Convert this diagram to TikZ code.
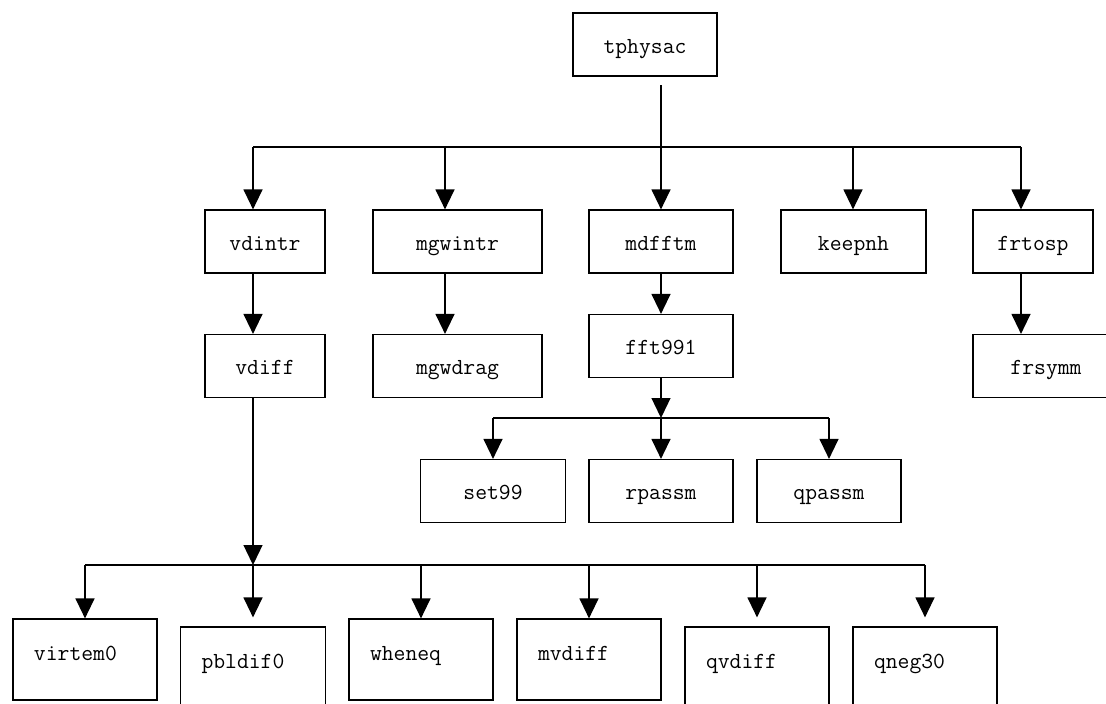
\documentclass[tikz,border=0pt]{standalone}
\usetikzlibrary{arrows.meta}
\begin{document}
\begin{tikzpicture}[x=1pt,y=-1pt,
  box/.style={draw, line width=1.2pt, inner xsep=0pt, inner ysep=0pt,
    text height=40pt, text depth=23pt, minimum height=63pt,
    font=\fontsize{23}{26}\selectfont\ttfamily},
  lbox/.style={box, inner xsep=21pt, text height=41pt, text depth=40pt,
    minimum height=81pt},
  line/.style={line width=1.3pt},
  arr/.style={line, -{Triangle[width=19pt,length=20pt]}}]
\useasboundingbox (0,0) rectangle (1106,704);
\clip (0,0) rectangle (1106,704);

% level 0
\node[box, minimum width=144pt] (tphysac) at (645,44.5) {tphysac};
% level 1
\node[box, minimum width=120pt] (vdintr)  at (265,241.5)  {vdintr};
\node[box, minimum width=169pt] (mgwintr) at (457.5,241.5) {mgwintr};
\node[box, minimum width=144pt] (mdfftm)  at (661,241.5)  {mdfftm};
\node[box, minimum width=145pt] (keepnh)  at (853.5,241.5) {keepnh};
\node[box, minimum width=120pt] (frtosp)  at (1033,241.5) {frtosp};
% level 2
\node[box, minimum width=120pt] (vdiff)   at (265,366)   {vdiff};
\node[box, minimum width=169pt] (mgwdrag) at (457.5,366) {mgwdrag};
\node[box, minimum width=144pt] (fft991)  at (661,346)   {fft991};
\node[box, minimum width=146pt] (frsymm)  at (1046,366)  {frsymm};
% level 3
\node[box, minimum width=145pt] (set99)   at (493,491) {set99};
\node[box, minimum width=144pt] (rpassm)  at (661,491) {rpassm};
\node[box, minimum width=144pt] (qpassm)  at (829,491) {qpassm};
% bottom row
\node[lbox] (virtem0) at (85,659.5)  {\makebox[102pt][l]{virtem0}};
\node[lbox] (pbldif0) at (253,667.5) {\makebox[103pt][l]{pbldif0}};
\node[lbox] (wheneq)  at (421,659.5) {\makebox[102pt][l]{wheneq}};
\node[lbox] (mvdiff)  at (589,659.5) {\makebox[102pt][l]{mvdiff}};
\node[lbox] (qvdiff)  at (757,667.5) {\makebox[102pt][l]{qvdiff}};
\node[lbox] (qneg30)  at (925,667.5) {\makebox[102pt][l]{qneg30}};

% connectors from tphysac
\coordinate (tp)  at (661,85);
\coordinate (b1a) at (253,147);
\coordinate (b1b) at (445,147);
\coordinate (b1c) at (661,147);
\coordinate (b1d) at (853,147);
\coordinate (b1e) at (1021,147);
\draw[line] (tp) -- (b1c);
\draw[line] (b1a) -- (b1e);
\draw[arr] (b1a) -- (b1a |- vdintr.north);
\draw[arr] (b1b) -- (b1b |- mgwintr.north);
\draw[arr] (b1c) -- (mdfftm.north);
\draw[arr] (b1d) -- (b1d |- keepnh.north);
\draw[arr] (b1e) -- (b1e |- frtosp.north);

% level 1 -> level 2
\draw[arr] (vdintr.south -| b1a) -- (vdiff.north -| b1a);
\draw[arr] (mgwintr.south -| b1b) -- (mgwdrag.north -| b1b);
\draw[arr] (mdfftm.south) -- (fft991.north);
\draw[arr] (frtosp.south -| b1e) -- (frsymm.north -| b1e);

% fft991 fan-out
\coordinate (b2a) at (493,418);
\coordinate (b2b) at (661,418);
\coordinate (b2c) at (829,418);
\draw[arr] (fft991.south) -- (b2b);
\draw[line] (b2a) -- (b2c);
\draw[arr] (b2a) -- (set99.north);
\draw[arr] (b2b) -- (rpassm.north);
\draw[arr] (b2c) -- (qpassm.north);

% vdiff fan-out
\coordinate (b3a) at (85,565);
\coordinate (b3b) at (253,565);
\coordinate (b3c) at (421,565);
\coordinate (b3d) at (589,565);
\coordinate (b3e) at (757,565);
\coordinate (b3f) at (925,565);
\draw[arr] (vdiff.south -| b3b) -- (b3b);
\draw[line] (b3a) -- (b3f);
\draw[arr] (b3a) -- (virtem0.north);
\draw[arr] (b3b) -- ([yshift=9pt]pbldif0.north);
\draw[arr] (b3c) -- (wheneq.north);
\draw[arr] (b3d) -- (mvdiff.north);
\draw[arr] (b3e) -- ([yshift=9pt]qvdiff.north);
\draw[arr] (b3f) -- ([yshift=9pt]qneg30.north);
\end{tikzpicture}
\end{document}
